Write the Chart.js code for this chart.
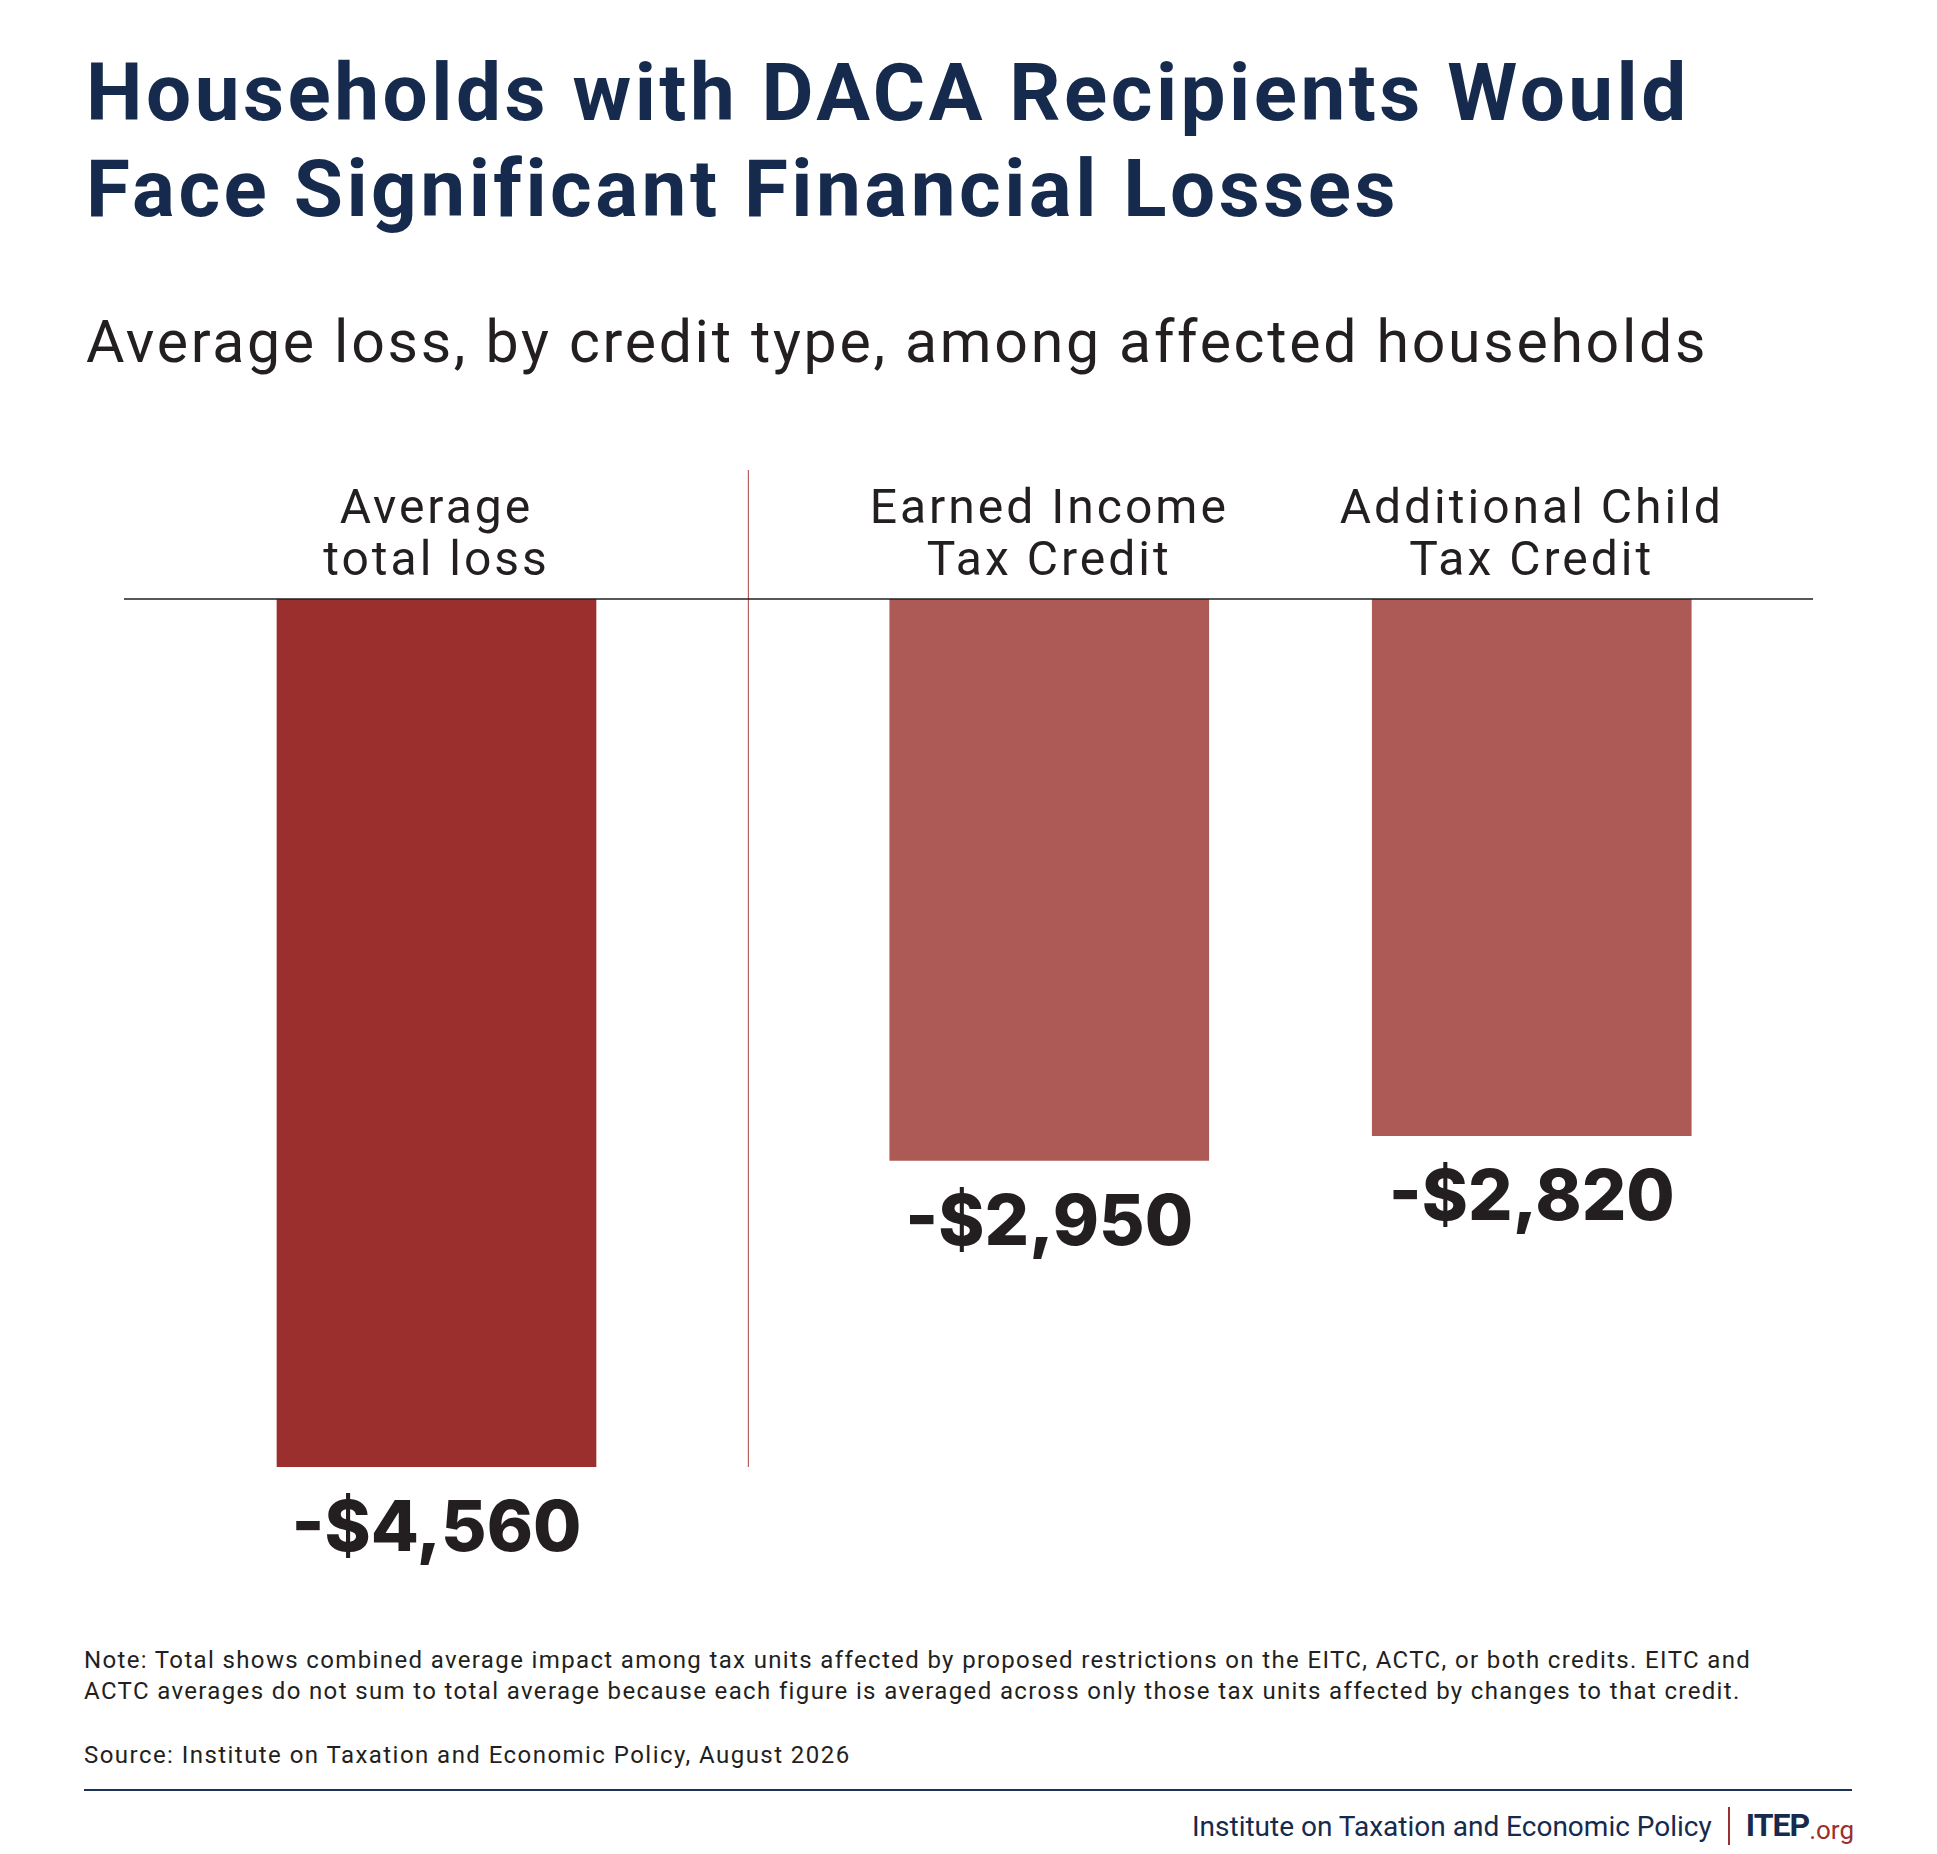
<!DOCTYPE html>
<html>
<head>
<meta charset="utf-8">
<script src="https://cdn.jsdelivr.net/npm/chart.js@4"></script>
<style>
  html,body{margin:0;padding:0;background:#fff;}
  body{width:1937px;height:1854px;position:relative;overflow:hidden;font-family:Roboto,sans-serif;color:#231f20;}
  .title{position:absolute;left:86px;top:45px;font-size:80px;line-height:96px;font-weight:700;color:#162a4d;letter-spacing:3.5px;white-space:nowrap;}
  .sub{position:absolute;left:86px;top:306px;font-size:59px;line-height:71px;letter-spacing:2.7px;white-space:nowrap;}
  .panel{position:absolute;top:470px;height:1150px;}
  .note{position:absolute;left:84px;top:1645px;font-size:24px;line-height:31px;letter-spacing:1.36px;white-space:nowrap;}
  .src{position:absolute;left:84px;top:1740px;font-size:24px;line-height:31px;letter-spacing:1.45px;white-space:nowrap;}
  .rule{position:absolute;left:84px;top:1789px;width:1768px;height:2px;background:#1d3356;}
  .foot{position:absolute;right:83px;top:1807px;display:flex;align-items:baseline;line-height:36px;font-size:28px;color:#162a4d;white-space:nowrap;}
  .foot .logo{border-left:2px solid #9b2f2e;margin-left:16px;padding-left:16px;}
  .foot b{font-weight:700;font-size:32px;letter-spacing:-1px;}
  .foot i{font-style:normal;color:#9b2f2e;font-size:26px;position:relative;top:3px;}
</style>
</head>
<body>
<div class="title">Households with DACA Recipients Would<br>Face Significant Financial Losses</div>
<div class="sub">Average loss, by credit type, among affected households</div>

<div class="panel" style="left:124px;width:625px"><canvas id="left" width="625" height="1150"></canvas></div>
<div class="panel" style="left:749px;width:1064px"><canvas id="right" width="1064" height="1150"></canvas></div>

<div class="note">Note: Total shows combined average impact among tax units affected by proposed restrictions on the EITC, ACTC, or both credits. EITC and<br>ACTC averages do not sum to total average because each figure is averaged across only those tax units affected by changes to that credit.</div>
<div class="src">Source: Institute on Taxation and Economic Policy, August 2026</div>
<div class="rule"></div>
<div class="foot"><span>Institute on Taxation and Economic Policy</span><span class="logo"><b>ITEP</b><i>.org</i></span></div>

<script>
// ---- data ----
const categories=[['Average','total loss'],['Earned Income','Tax Credit'],['Additional Child','Tax Credit']];
const losses=[-4560,-2950,-2820];
const barColors=['#9b2f2e','#ad5a56','#ad5a56'];

const INK='#231f20';
const yMin=Math.min(...losses);
const fmt=v=>(v<0?'-':'')+'$'+Math.abs(v).toLocaleString('en-US');

// wider tracking for the category labels
const tracking={
  id:'tracking',
  beforeDraw(chart){chart.ctx.letterSpacing='3px';}
};

// zero line, divider and value labels under each bar
const lossMarks={
  id:'lossMarks',
  afterDatasetsDraw(chart,args,opts){
    const {ctx,scales:{y}}=chart;
    const y0=y.getPixelForValue(0);
    ctx.save();
    ctx.letterSpacing='0px';
    if(opts.divider){
      ctx.strokeStyle='#b5625e';ctx.lineWidth=1.2;
      ctx.beginPath();ctx.moveTo(chart.width-0.6,0);ctx.lineTo(chart.width-0.6,y.getPixelForValue(yMin));ctx.stroke();
    }
    ctx.strokeStyle=INK;ctx.lineWidth=1.5;
    ctx.beginPath();ctx.moveTo(0,y0);ctx.lineTo(chart.width,y0);ctx.stroke();
    ctx.font='800 70px Inter';ctx.fillStyle=INK;ctx.textAlign='center';ctx.textBaseline='alphabetic';
    const vals=chart.data.datasets[0].data;
    chart.getDatasetMeta(0).data.forEach((bar,i)=>{
      ctx.fillText(fmt(vals[i]),bar.x,bar.y+84);
    });
    ctx.restore();
  }
};

function makeChart(id,from,to,pad,divider){
  return new Chart(document.getElementById(id),{
    type:'bar',
    data:{labels:categories.slice(from,to),datasets:[{
      data:losses.slice(from,to),
      backgroundColor:barColors.slice(from,to),
      barThickness:319,borderWidth:0
    }]},
    options:{
      responsive:false,animation:false,
      layout:{padding:pad},
      plugins:{legend:{display:false},tooltip:{enabled:false},lossMarks:{divider}},
      scales:{
        x:{position:'top',grid:{display:false,drawTicks:false},border:{display:false},
          ticks:{color:INK,font:{family:'Roboto',size:48,lineHeight:'52px'},padding:10,maxRotation:0,autoSkip:false},
          afterFit:a=>{a.height=129;}},
        y:{display:false,min:yMin,max:0}
      }
    },
    plugins:[tracking,lossMarks]
  });
}

Promise.all([document.fonts.load('800 70px Inter'),document.fonts.load('48px Roboto')]).finally(()=>{
  makeChart('left',0,1,{bottom:153},true);
  makeChart('right',1,3,{left:59,right:40,bottom:153},false);
});
</script>
</body>
</html>
